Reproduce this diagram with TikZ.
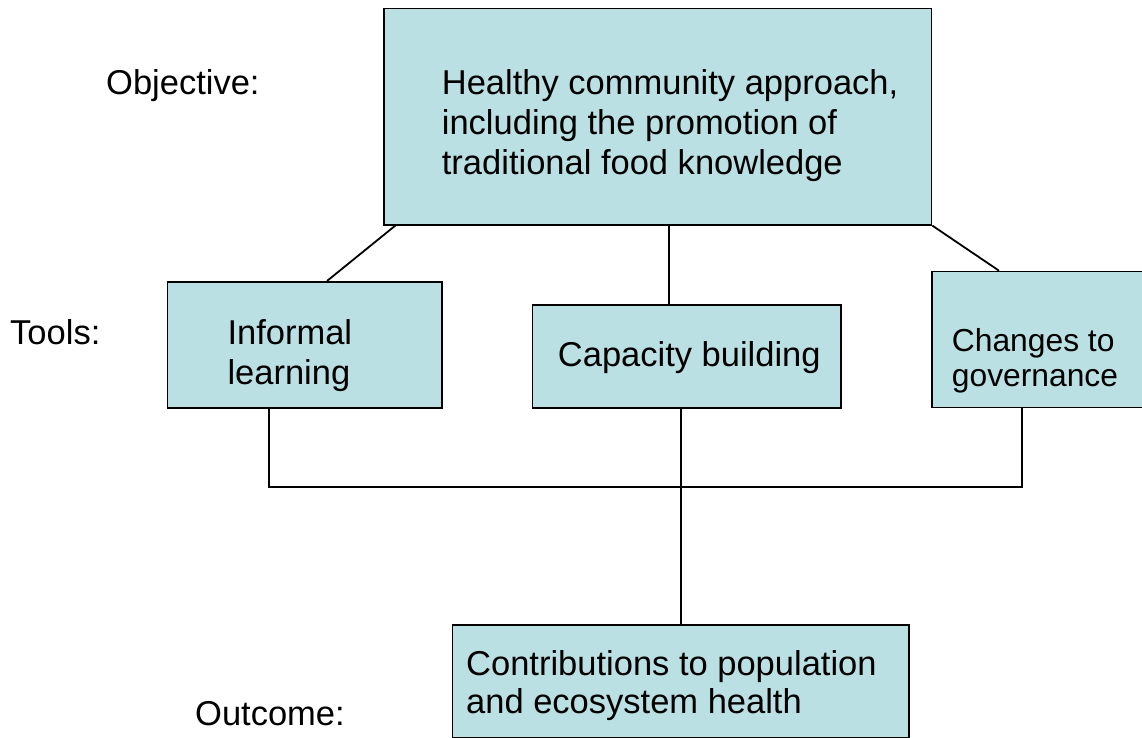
\documentclass[tikz,border=0pt]{standalone}
\usepackage{fontspec}
\setmainfont{Liberation Sans}
\usetikzlibrary{calc}
\definecolor{boxfill}{RGB}{187,224,227}
\tikzset{
  box/.style={draw=black, line width=1.6pt, fill=boxfill, rectangle, inner sep=0pt, anchor=north west},
  txt/.style={inner sep=0pt, anchor=base west, font=\fontsize{34.5}{40}\selectfont},
  txtsmall/.style={inner sep=0pt, anchor=base west, font=\fontsize{31.8}{35}\selectfont},
  conn/.style={draw=black, line width=1.8pt}
}
\begin{document}
\begin{tikzpicture}[x=1pt,y=-1pt]
\useasboundingbox (0,0) rectangle (1142,738);
% boxes
\node[box, minimum width=547.4pt, minimum height=216.3pt] (obj) at (383.3,7.7) {};
\node[box, minimum width=274.3pt, minimum height=126.3pt] (inf) at (166.7,281) {};
\node[box, minimum width=308.3pt, minimum height=103pt] (cap) at (531.7,304.3) {};
\node[box, minimum width=216pt, minimum height=136pt] (chg) at (931,270.7) {};
\node[box, minimum width=456.3pt, minimum height=112.7pt] (out) at (451.7,624) {};
% texts
\node[txt] (tobj) at (441.7,94.3) {\vtop{\hbox{Healthy community approach,}\hbox{including the promotion of}\hbox{traditional food knowledge}}};
\node[txt] (tinf) at (227.3,344) {\vtop{\hbox{Informal}\hbox{learning}}};
\node[txt] (tcap) at (557.7,366.7) {Capacity building};
\node[txtsmall] (tchg) at (951.7,351.7) {\vtop{\hbox{Changes to}\hbox{governance}}};
\node[txt, font=\fontsize{34.5}{38.3}\selectfont] (tout) at (466,675) {\vtop{\hbox{Contributions to population}\hbox{and ecosystem health}}};
\node[txt] (lobj) at (106,94.3) {Objective:};
\node[txt] (ltools) at (10,344.3) {Tools:};
\node[txt] (lout) at (195,725) {Outcome:};
% connectors from objective
\draw[conn] ($(obj.south west)+(12,0)$) -- ($(inf.north west)+(160.3,0)$);
\coordinate (c1) at ($(cap.north west)+(137.3,0)$);
\draw[conn] (c1 |- obj.south) -- (c1);
\draw[conn] (obj.south east) -- ($(chg.north west)+(68,0)$);
% bus to outcome
\coordinate (bl) at ($(inf.south west)+(102.6,0)$);
\coordinate (br) at ($(chg.south west)+(91.3,0)$);
\coordinate (busy) at (0,486.7);
\draw[conn] (bl) -- (bl |- busy) -- (br |- busy) -- (br);
\coordinate (c2) at ($(out.north west)+(229,0)$);
\draw[conn] (c2 |- cap.south) -- (c2);
\end{tikzpicture}
\end{document}
